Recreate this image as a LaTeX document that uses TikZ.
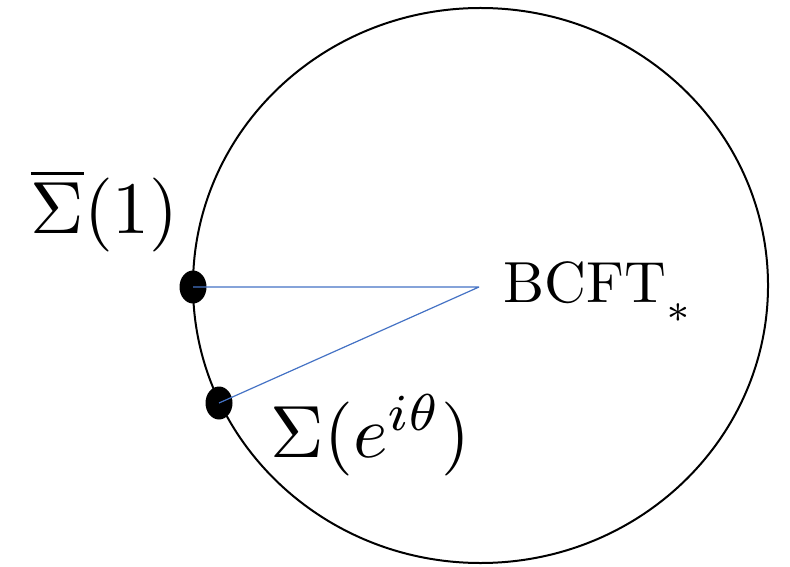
\documentclass[tikz,border=0pt]{standalone}
\usepackage{amsmath}
\usetikzlibrary{shapes.geometric}
\definecolor{raycol}{HTML}{4472C4}

\begin{document}
\begin{tikzpicture}[x=0.5pt, y=-0.5pt, thick,
  insertion/.style={ellipse, fill=black, inner sep=0pt, minimum width=13.5pt, minimum height=16.5pt},
  ray/.style={draw=raycol, line width=0.6pt},
  label/.style={inner sep=0pt, anchor=base west}]

  \useasboundingbox (0,0) rectangle (790,566);

  % the disk
  \draw[line width=1pt] (480.5,285.5) ellipse [x radius=287.5, y radius=277.5];

  \coordinate (O) at (479,287);
  \node[insertion] (S1) at (193,287) {};
  \node[insertion] (S2) at (219,403) {};

  \path[ray] (O) -- (S1.center)
             (O) -- (S2.center);

  \node[label] (bcft) at (503,302) {\scalebox{2.9}{BCFT\raisebox{-0.2em}{$_*$}}};
  \node[label] (sbar) at (30,234) {\scalebox{3.7}{$\overline{\Sigma}(1)$}};
  \node[label] (sig) at (270,457) {\scalebox{3.7}{$\Sigma(e^{i\theta})$}};

\end{tikzpicture}
\end{document}
